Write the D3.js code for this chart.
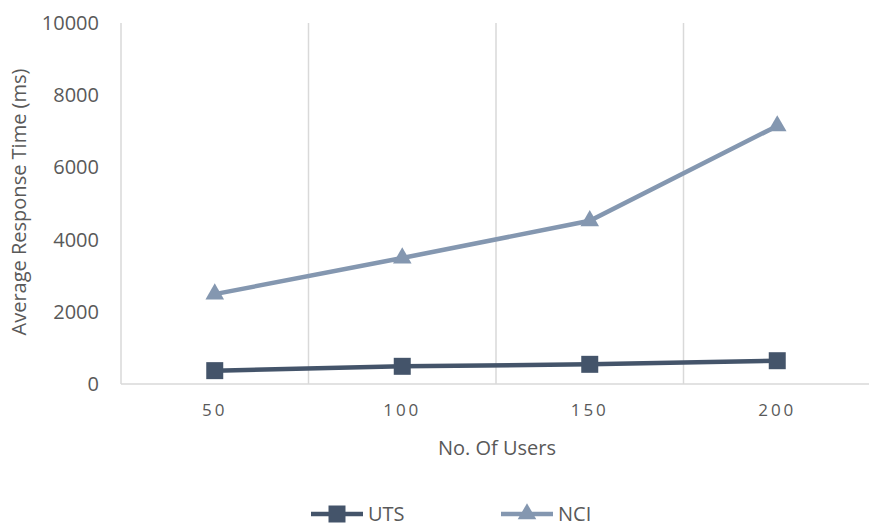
<!DOCTYPE html>
<html>
<head>
<meta charset="utf-8">
<script src="https://cdn.jsdelivr.net/npm/d3@7"></script>
<style>
  body { margin: 0; background: #fff; }
  svg { display: block; }
  text { font-family: "Open Sans", "Liberation Sans", sans-serif; fill: #595959; }
</style>
</head>
<body>
<svg id="chart" width="869" height="526"></svg>
<script>
// Number of concurrent users (x categories)
const users = ["50", "100", "150", "200"];
// Average response time in ms for each system
const utsTimes = [370, 490, 545, 645];
const nciTimes = [2490, 3490, 4520, 7150];
// Y axis ticks
const yTicks = [0, 2000, 4000, 6000, 8000, 10000];

const series = [
  { name: "UTS", values: utsTimes, color: "#44546A", marker: "square" },
  { name: "NCI", values: nciTimes, color: "#8497B0", marker: "triangle" }
];

const svg = d3.select("#chart");
const margin = { left: 121, right: -2, top: 23, bottom: 142 };
const W = 869, H = 526;
const plotW = W - margin.left - margin.right;
const plotH = H - margin.top - margin.bottom;

const g = svg.append("g").attr("transform", `translate(${margin.left},${margin.top})`);

const x = d3.scaleBand().domain(users).range([0, plotW]).padding(0);
const y = d3.scaleLinear().domain([0, 10000]).range([plotH, 0]);

// Vertical gridlines between categories
const bounds = users.slice(1).map(u => x(u));
g.selectAll("line.grid").data(bounds).join("line")
  .attr("class", "grid")
  .attr("x1", d => d).attr("x2", d => d)
  .attr("y1", 0).attr("y2", plotH)
  .attr("stroke", "#d9d9d9").attr("stroke-width", 1.5);

// Axis lines
g.append("line").attr("x1", 0).attr("x2", 0).attr("y1", 0).attr("y2", plotH)
  .attr("stroke", "#d9d9d9").attr("stroke-width", 1.5);
g.append("line").attr("x1", 0).attr("x2", plotW).attr("y1", plotH).attr("y2", plotH)
  .attr("stroke", "#d9d9d9").attr("stroke-width", 1.5);

// Y axis labels
const yAxis = g.append("g").call(d3.axisLeft(y).tickValues(yTicks).tickFormat(d3.format("d")).tickSize(0).tickPadding(22));
yAxis.select(".domain").remove();
yAxis.selectAll("text").style("font-size", "20px").attr("fill", "#595959")
  .style("font-family", "'Open Sans', 'Liberation Sans', sans-serif");

// X axis labels
const xAxis = g.append("g").attr("transform", `translate(0,${plotH})`)
  .call(d3.axisBottom(x).tickSize(0).tickPadding(20));
xAxis.select(".domain").remove();
xAxis.selectAll("text").style("font-size", "17px").attr("fill", "#595959")
  .style("letter-spacing", "3px")
  .style("font-family", "'Open Sans', 'Liberation Sans', sans-serif");

// Axis titles
svg.append("text")
  .attr("transform", "translate(26,202) rotate(-90)")
  .attr("text-anchor", "middle")
  .style("font-size", "20px")
  .text("Average Response Time (ms)");
svg.append("text")
  .attr("x", 497).attr("y", 455)
  .attr("text-anchor", "middle")
  .style("font-size", "20px")
  .text("No. Of Users");

const cx = d => x(d) + x.bandwidth() / 2;
const line = d3.line().x((d, i) => cx(users[i])).y(d => y(d));

const sq = d3.symbol().type(d3.symbolSquare).size(17 * 17);
const tri = d3.symbol().type(d3.symbolTriangle).size(150);

series.forEach(s => {
  g.append("path").datum(s.values)
    .attr("d", line).attr("fill", "none")
    .attr("stroke", s.color).attr("stroke-width", 4.5);
  g.selectAll(null).data(s.values).join("path")
    .attr("transform", (d, i) => `translate(${cx(users[i])},${y(d)})`)
    .attr("d", s.marker === "square" ? sq : tri)
    .attr("fill", s.color);
});

// Legend
const legend = svg.append("g");
const legendItems = [{ s: series[0], x: 311 }, { s: series[1], x: 501 }];
legendItems.forEach(({ s, x: lx }) => {
  const ly = 514;
  legend.append("line").attr("x1", lx).attr("x2", lx + 52).attr("y1", ly).attr("y2", ly)
    .attr("stroke", s.color).attr("stroke-width", 4.5);
  legend.append("path")
    .attr("transform", `translate(${lx + 26},${ly})`)
    .attr("d", s.marker === "square" ? sq : tri)
    .attr("fill", s.color);
  legend.append("text").attr("x", lx + 57).attr("y", ly + 7)
    .style("font-size", "20px").text(s.name);
});
</script>
</body>
</html>
